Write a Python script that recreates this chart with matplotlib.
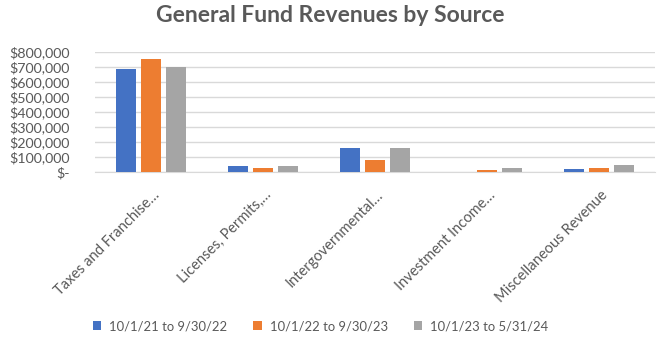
import numpy as np
import matplotlib
matplotlib.use("Agg")
import matplotlib.pyplot as plt
import matplotlib.transforms as mtrans
from matplotlib.patches import Patch
from matplotlib.ticker import FuncFormatter

# ---------------- Data ----------------
categories = ["Taxes and Franchise\u2026", "Licenses, Permits,\u2026", "Intergovernmental\u2026",
              "Investment Income\u2026", "Miscellaneous Revenue"]
series_names = ["10/1/21 to 9/30/22", "10/1/22 to 9/30/23", "10/1/23 to 5/31/24"]
fy22 = [685000, 42000, 158000, 0, 22000]
fy23 = [751000, 29000, 82000, 13000, 29000]
fy24 = [698000, 38000, 162000, 29000, 49000]
colors = ["#4472C4", "#ED7D31", "#A5A5A5"]

plt.rcParams["font.family"] = ["Lato", "DejaVu Sans"]
text_col = "#595959"

fig = plt.figure(figsize=(6.61, 3.45), dpi=100)
ax = fig.add_axes([0.1437, 0.5014, 0.991 - 0.1437, 0.849 - 0.5014])

x = np.arange(len(categories))
w = 0.18
step = 0.223
for i, (vals, c) in enumerate(zip([fy22, fy23, fy24], colors)):
    ax.bar(x + (i - 1) * step, vals, width=w, color=c, zorder=3)

ax.set_xlim(-0.5, len(categories) - 0.5)
ax.set_ylim(0, 800000)
ax.set_yticks(np.arange(0, 800001, 100000))

def money(v, pos):
    if v == 0:
        return "$-"
    return "${:,.0f}".format(v)

ax.yaxis.set_major_formatter(FuncFormatter(money))
ax.grid(axis="y", color="#D9D9D9", linewidth=1, zorder=0)
for s in ["top", "right", "left"]:
    ax.spines[s].set_visible(False)
ax.spines["bottom"].set_color("#D9D9D9")
ax.tick_params(axis="both", length=0, colors=text_col, labelsize=10.3)
ax.tick_params(axis="y", pad=18)

ax.set_xticks(x)
ax.set_xticklabels(categories, rotation=45, ha="right", va="center",
                   rotation_mode="anchor", fontsize=10.5, color=text_col)
ax.tick_params(axis="x", pad=15)
# nudge x labels a bit to the right, like the original
off = mtrans.ScaledTranslation(6 / 100, 0, fig.dpi_scale_trans)
for lbl in ax.get_xticklabels():
    lbl.set_transform(lbl.get_transform() + off)

fig.text(0.5, 0.955, "General Fund Revenues by Source", ha="center", va="center",
         fontsize=16.5, fontweight="bold", color=text_col)

handles = [Patch(facecolor=c, edgecolor="none") for c in colors]
fig.legend(handles, series_names, loc="center", bbox_to_anchor=(0.485, 0.055), ncol=3,
           frameon=False, fontsize=9.4, handlelength=0.65, handleheight=0.65,
           handletextpad=0.6, columnspacing=2.0, labelcolor=text_col)

fig.savefig("out.png", dpi=100)
